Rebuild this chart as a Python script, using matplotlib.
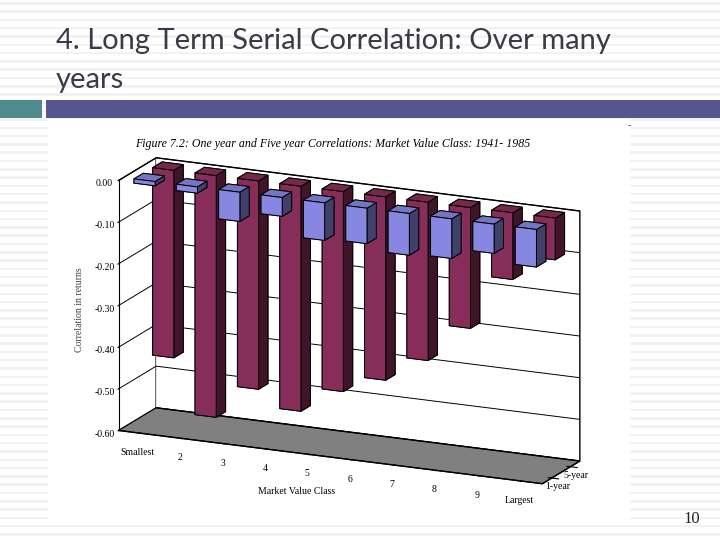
import numpy as np
import matplotlib
matplotlib.use('Agg')
from matplotlib import pyplot as plt
from matplotlib.patches import Rectangle

# 数据
classes = ['Smallest', '2', '3', '4', '5', '6', '7', '8', '9', 'Largest']
series_names = ['1-year', '5-year']
one_year = [-0.01, -0.015, -0.07, -0.045, -0.09, -0.085, -0.10, -0.095, -0.07, -0.09]
five_year = [-0.45, -0.58, -0.50, -0.54, -0.48, -0.44, -0.38, -0.29, -0.16, -0.10]
zticks = [0.0, -0.1, -0.2, -0.3, -0.4, -0.5, -0.6]

fig = plt.figure(figsize=(7.2, 5.4), dpi=100)

# 背景: 幻灯片条纹
bg = fig.add_axes([0, 0, 1, 1])
bg.set_xlim(0, 720)
bg.set_ylim(540, 0)
bg.axis('off')
for y in np.arange(2, 540, 8.3):
    bg.axhspan(y, y + 2.5, color='#f2f2f2', lw=0)
bg.add_patch(Rectangle((48, 119), 582, 402, color='white', lw=0))
bg.add_patch(Rectangle((0, 100), 42, 18, color='#4f8b8c', lw=0))
bg.add_patch(Rectangle((46, 100), 674, 18, color='#565690', lw=0))

fig.text(56, 540 - 49, '4. Long Term Serial Correlation: Over many',
         transform=None, fontsize=21, family='Lato', color='#3a3a48')
fig.text(56, 540 - 88, 'years', transform=None, fontsize=21, family='Lato', color='#3a3a48')
fig.text(692, 540 - 523, '10', transform=None, fontsize=12, family='Liberation Serif',
         ha='center', color='#222222')
fig.text(628, 540 - 128, '-', transform=None, fontsize=7, color='#444444')

fig.text(333, 540 - 147, 'Figure 7.2: One year and Five year Correlations: Market Value Class: 1941- 1985',
         transform=None, fontsize=8.6, family='Liberation Serif', style='italic', ha='center')

# 三维柱状图 (方形坐标区, mplot3d 会强制为正方形)
side = 389
cx, cy = 344, 326
ax = fig.add_axes([(cx - side / 2) / 720, (540 - cy - side / 2) / 540, side / 720, side / 540],
                  projection='3d', proj_type='ortho')
ax.set_facecolor('none')
ax.set_box_aspect((469, 91, 262), zoom=1.35)
ax.view_init(elev=16, azim=-65.5)

n = len(classes)
xs = np.tile(np.arange(1, n + 1), 2) - 0.25
ys = np.repeat([0, 1], n) - 0.25
vals = np.array(one_year + five_year)
cols = ['#9999ff'] * n + ['#993366'] * n
bars = ax.bar3d(xs, ys, vals, 0.5, 0.5, -vals, color=cols, edgecolor='black',
                linewidth=0.7, shade=True)
bars.set_clip_on(False)

ax.set_xlim(0.5, n + 0.5)
ax.set_ylim(-0.5, 1.5)
ax.set_zlim(-0.6, 0)
ax.set_xticks(np.arange(1, n + 1))
ax.set_xticklabels(classes, family='Liberation Serif', fontsize=7)
ax.set_yticks([0, 1])
ax.set_yticklabels(series_names, family='Liberation Serif', fontsize=7)
ax.set_zticks(zticks)
ax.set_zticklabels(['%.2f' % z for z in zticks], family='Liberation Serif', fontsize=7)
ax.zaxis.set_ticks_position('lower')
ax.zaxis.set_label_position('lower')
ax.tick_params(axis='x', pad=0)
ax.tick_params(axis='y', pad=-6)
ax.tick_params(axis='z', pad=-3.5)

ax.xaxis.set_pane_color((1, 1, 1, 1))
ax.yaxis.set_pane_color((1, 1, 1, 1))
ax.zaxis.set_pane_color('#808080')
for a in (ax.xaxis, ax.yaxis, ax.zaxis):
    a.pane.set_edgecolor('black')
    a.line.set_color('black')
ax.xaxis._axinfo['grid']['color'] = (1, 1, 1, 0)
ax.yaxis._axinfo['grid']['color'] = (1, 1, 1, 0)
ax.zaxis._axinfo['grid']['color'] = 'black'
ax.zaxis._axinfo['grid']['linewidth'] = 0.7

fig.text(80, 540 - 310, 'Correlation in returns', transform=None, rotation=90,
         fontsize=7, family='Liberation Serif', ha='center', va='center', color='#444444')
fig.text(297, 540 - 492, 'Market Value Class', transform=None,
         fontsize=7, family='Liberation Serif', ha='center', va='center')

fig.savefig('out.png', dpi=100)
